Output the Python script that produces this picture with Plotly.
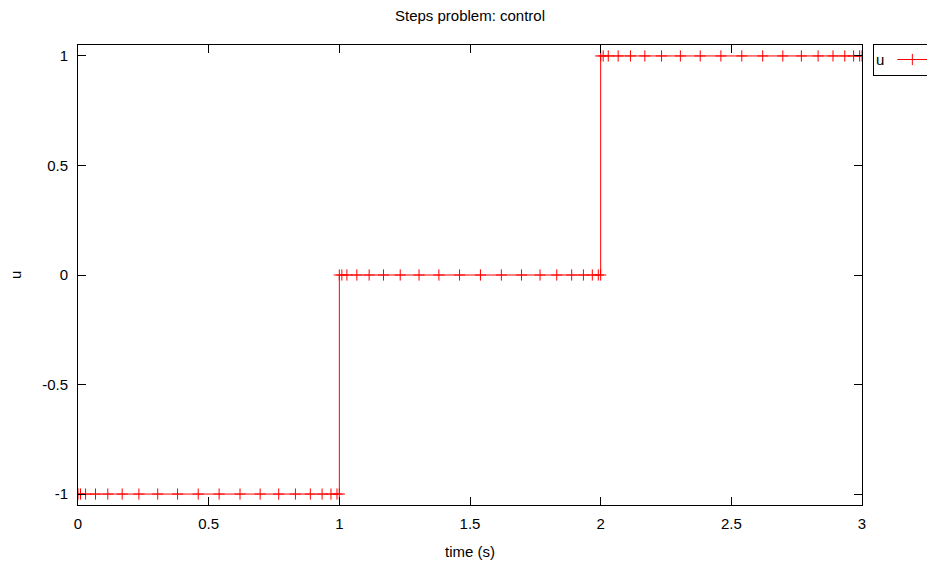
import plotly.graph_objects as go

# Phase 1 (u = -1), phase 2 (u = 0), phase 3 (u = 1): collocation times
t_phase1 = [0.0, 0.0096, 0.029, 0.067, 0.114, 0.169, 0.233, 0.305, 0.381, 0.460,
            0.540, 0.620, 0.697, 0.768, 0.832, 0.889, 0.934, 0.968, 0.991, 1.0]
u_phase1 = [-1] * len(t_phase1)
t_phase2 = [1.0, 1.0096, 1.029, 1.067, 1.114, 1.169, 1.233, 1.305, 1.381, 1.460,
            1.540, 1.620, 1.697, 1.768, 1.832, 1.889, 1.934, 1.968, 1.991, 2.0]
u_phase2 = [0] * len(t_phase2)
t_phase3 = [2.0, 2.0096, 2.029, 2.067, 2.114, 2.169, 2.233, 2.305, 2.381, 2.460,
            2.540, 2.620, 2.697, 2.768, 2.832, 2.889, 2.934, 2.968, 2.991, 3.0]
u_phase3 = [1] * len(t_phase3)

x_ticks = [0, 0.5, 1, 1.5, 2, 2.5, 3]
x_tick_labels = ["0", "0.5", "1", "1.5", "2", "2.5", "3"]
y_ticks = [-1, -0.5, 0, 0.5, 1]
y_tick_labels = ["-1", "-0.5", "0", "0.5", "1"]

t_all = t_phase1 + t_phase2 + t_phase3
u_all = u_phase1 + u_phase2 + u_phase3

FONT = "Liberation Sans, Arial, Helvetica, sans-serif"
OFF = 8  # default page body margin
W, H = 935 - OFF, 563 - OFF
ML, MT = 78 - OFF, 45 - OFF
PR, PB = 862 - OFF, 505 - OFF
MR, MB = W - PR, H - PB
PW, PH = W - ML - MR, H - MT - MB

fig = go.Figure()
fig.add_trace(go.Scatter(
    x=t_all, y=u_all, mode="lines+markers", name="u",
    line=dict(color="#ff0000", width=1),
    marker=dict(symbol="cross-thin", size=8, line=dict(color="#ff0000", width=1), color="#ff0000"),
))

axis_common = dict(
    showgrid=False, zeroline=False, showline=True, linecolor="black", linewidth=1,
    mirror="allticks", ticks="inside", ticklen=8, tickcolor="black", tickwidth=1,
    tickfont=dict(family=FONT, size=15, color="black"), automargin=False,
)
fig.update_xaxes(range=[0, 3], tickvals=x_ticks, ticktext=x_tick_labels, ticklabelstandoff=5, **axis_common)
fig.update_yaxes(range=[-1.05, 1.05], tickvals=y_ticks, ticktext=y_tick_labels, ticklabelstandoff=6, **axis_common)

fig.add_annotation(text="time (s)", xref="paper", yref="paper", x=(470 - OFF - ML) / PW,
                   y=-(551 - OFF - PB) / PH,
                   showarrow=False, xanchor="center", yanchor="middle",
                   font=dict(family=FONT, size=15, color="black"))
fig.add_annotation(text="u", xref="paper", yref="paper", x=(15 - OFF - ML) / PW,
                   y=1 - (275 - OFF - MT) / PH,
                   showarrow=False, xanchor="center", yanchor="middle", textangle=-90,
                   font=dict(family=FONT, size=15, color="black"))

fig.update_layout(
    width=W, height=H,
    margin=dict(l=ML, r=MR, t=MT, b=MB, autoexpand=False),
    paper_bgcolor="white", plot_bgcolor="white",
    title=dict(text="Steps problem: control", x=(470 - OFF) / W, xanchor="center",
               y=1 - (16 - OFF) / H, yanchor="middle",
               font=dict(family=FONT, size=15, color="black"), automargin=False),
    showlegend=True,
    legend=dict(x=(873 - OFF - ML) / PW, y=1.0 + (MT - (44 - OFF)) / PH, xanchor="left", yanchor="top",
                bordercolor="black", borderwidth=1, bgcolor="white",
                title=dict(text="u", side="left", font=dict(family=FONT, size=15, color="black")),
                font=dict(family=FONT, size=1, color="white"),
                tracegroupgap=0, itemwidth=30),
    font=dict(family=FONT),
)

fig.write_html("out.html")
